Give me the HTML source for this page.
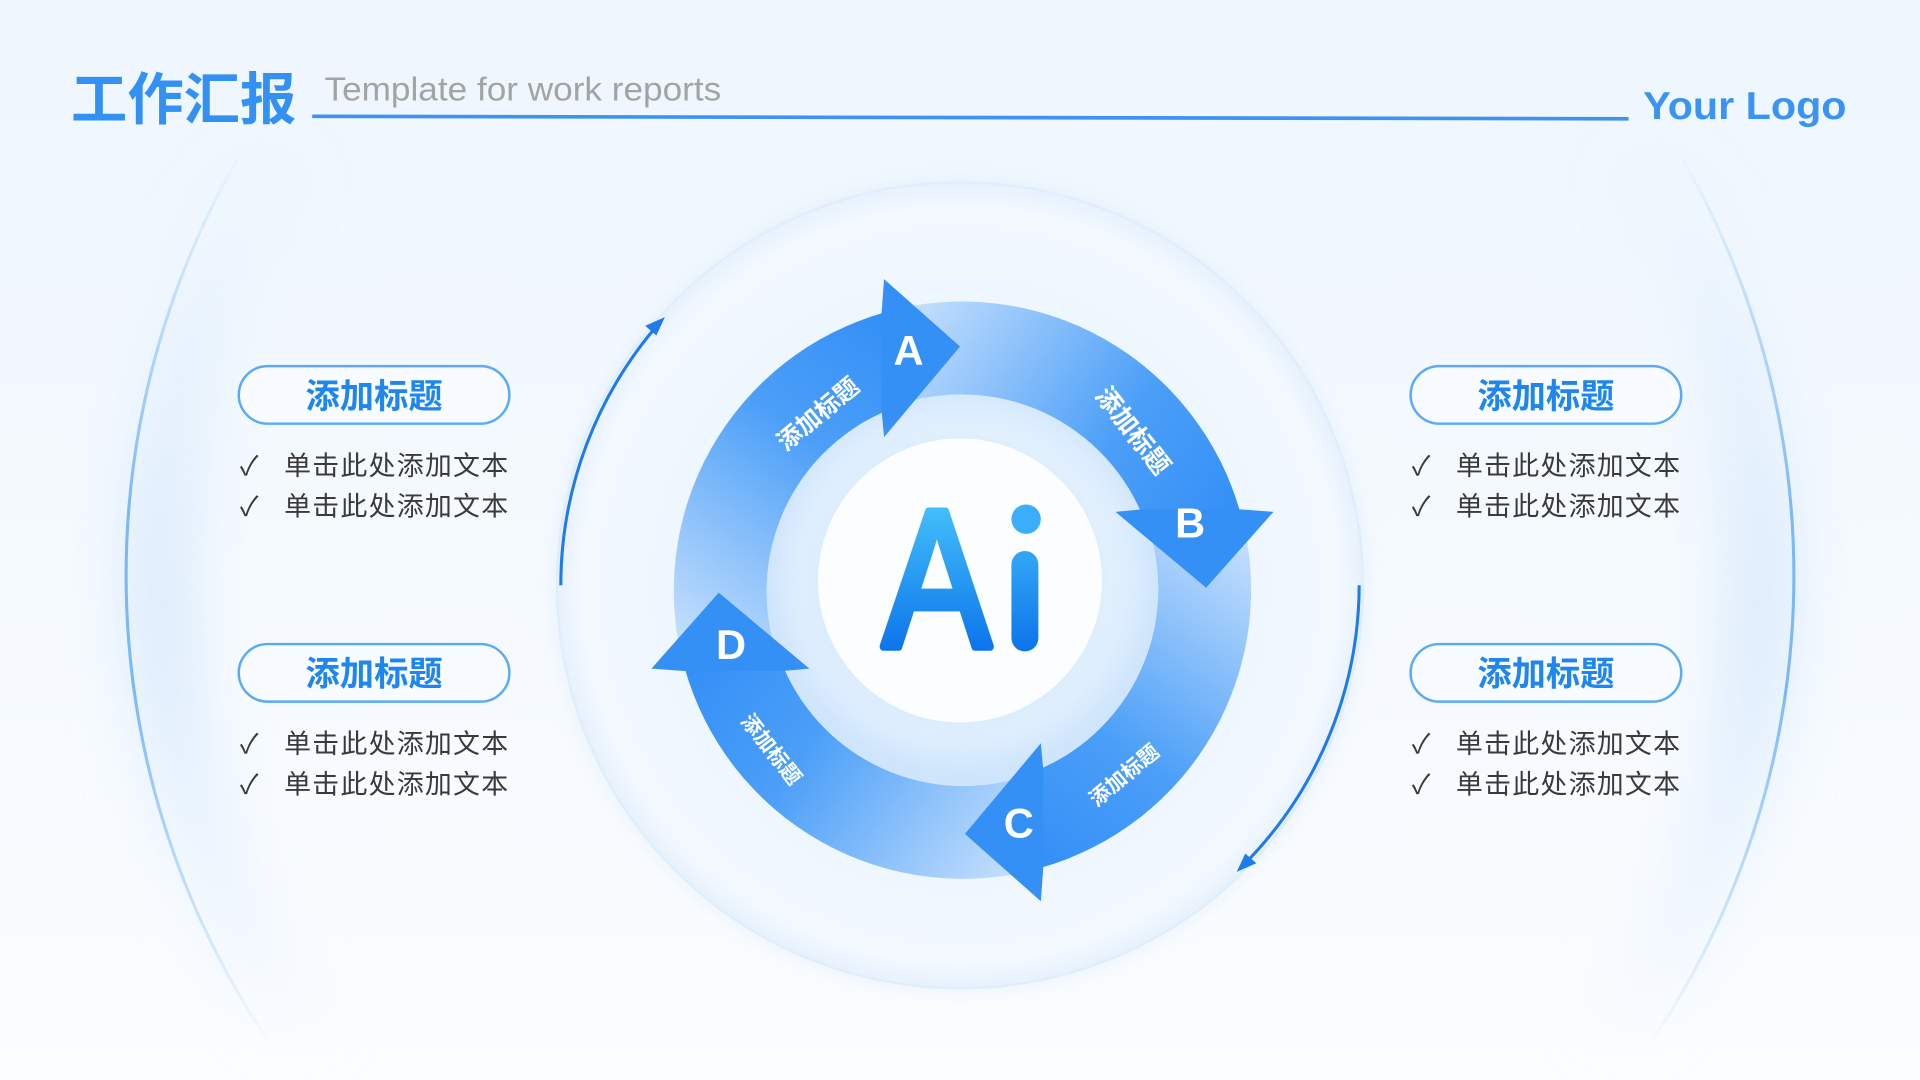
<!DOCTYPE html>
<html><head><meta charset="utf-8"><style>
html,body{margin:0;padding:0;width:1920px;height:1080px;overflow:hidden;background:#f3f8fe}
svg{display:block}
text{font-family:"Liberation Sans","Noto Sans CJK SC",sans-serif}
</style></head><body>
<svg width="1920" height="1080" viewBox="0 0 1568 882" xmlns="http://www.w3.org/2000/svg">
<defs>
<linearGradient id="bg" x1="0" y1="0" x2="0" y2="1"><stop offset="0" stop-color="#eef6fe"/><stop offset="1" stop-color="#fbfdff"/></linearGradient>
<linearGradient id="bigStroke" x1="0" y1="120" x2="0" y2="860" gradientUnits="userSpaceOnUse"><stop offset="0" stop-color="#8cc2f7" stop-opacity="0"/><stop offset="0.4" stop-color="#7ab8f6"/><stop offset="0.6" stop-color="#7ab8f6"/><stop offset="1" stop-color="#8cc2f7" stop-opacity="0"/></linearGradient>
<linearGradient id="bigGlow" x1="0" y1="120" x2="0" y2="860" gradientUnits="userSpaceOnUse"><stop offset="0" stop-color="#d8eafc" stop-opacity="0"/><stop offset="0.45" stop-color="#d8eafc"/><stop offset="0.55" stop-color="#d8eafc"/><stop offset="1" stop-color="#d8eafc" stop-opacity="0"/></linearGradient>
<radialGradient id="midFill" cx="784" cy="478" r="330" gradientUnits="userSpaceOnUse"><stop offset="0.5" stop-color="#e8f3fe"/><stop offset="0.93" stop-color="#f4f9ff"/><stop offset="1" stop-color="#e6f1fd"/></radialGradient>
<radialGradient id="inner" cx="786" cy="472" r="160" gradientUnits="userSpaceOnUse"><stop offset="0.7" stop-color="#ffffff"/><stop offset="0.78" stop-color="#e4f1fe"/><stop offset="1" stop-color="#cfe5fc"/></radialGradient>
<linearGradient id="arr" x1="-30" y1="-230" x2="-235" y2="60" gradientUnits="userSpaceOnUse"><stop offset="0" stop-color="#2f8cf6"/><stop offset="0.4" stop-color="#4c9ff8"/><stop offset="1" stop-color="#cfe5fd"/></linearGradient>
<linearGradient id="ai" x1="0" y1="410" x2="0" y2="535" gradientUnits="userSpaceOnUse"><stop offset="0" stop-color="#45c1fb"/><stop offset="1" stop-color="#0a72ea"/></linearGradient>
<filter id="sh" x="-20%" y="-20%" width="140%" height="140%"><feGaussianBlur stdDeviation="8"/></filter>
<filter id="bl" x="-10%" y="-10%" width="120%" height="120%"><feGaussianBlur stdDeviation="25"/></filter>
</defs>
<rect width="1568" height="882" fill="url(#bg)"/>
<circle cx="784" cy="470" r="655" fill="none" stroke="url(#bigGlow)" stroke-width="50" filter="url(#bl)"/>
<circle cx="784" cy="470" r="681" fill="none" stroke="url(#bigStroke)" stroke-width="2.5"/>
<text x="58" y="97" font-size="46" font-weight="bold" fill="#3391f3">工作汇报</text>
<text x="265" y="82" font-size="27" fill="#a3a3a3" textLength="324" lengthAdjust="spacingAndGlyphs">Template for work reports</text>
<line x1="255" y1="95" x2="1330" y2="97" stroke="#3d92f4" stroke-width="3"/>
<text x="1342" y="97" font-size="32" font-weight="bold" fill="#3b93f3" textLength="166" lengthAdjust="spacingAndGlyphs">Your Logo</text>
<circle cx="784" cy="478" r="330" fill="#dbe9f8" filter="url(#sh)" opacity="0.6"/>
<circle cx="784" cy="478" r="329" fill="url(#midFill)" stroke="#e0edfb" stroke-width="2"/>
<path d="M540 262 A326 326 0 0 0 458 478" fill="none" stroke="#1f7be8" stroke-width="2.5"/>
<path d="M543 259 L527 266 L536 274 Z" fill="#1f7be8"/>
<path d="M1110 478 A326 326 0 0 1 1014 708" fill="none" stroke="#1f7be8" stroke-width="2.5"/>
<path d="M1010 712 L1026 705 L1017 697 Z" fill="#1f7be8"/>
<circle cx="786" cy="478" r="165" fill="url(#inner)"/>
<g transform="translate(786,482)">
<g><path d="M-227 64 A236 236 0 0 1 -63 -227 L-62 -146.6 A160 160 0 0 0 -147 64 Z" fill="url(#arr)"/></g>
<g transform="rotate(90)"><path d="M-227 64 A236 236 0 0 1 -63 -227 L-62 -146.6 A160 160 0 0 0 -147 64 Z" fill="url(#arr)"/></g>
<g transform="rotate(180)"><path d="M-227 64 A236 236 0 0 1 -63 -227 L-62 -146.6 A160 160 0 0 0 -147 64 Z" fill="url(#arr)"/></g>
<g transform="rotate(270)"><path d="M-227 64 A236 236 0 0 1 -63 -227 L-62 -146.6 A160 160 0 0 0 -147 64 Z" fill="url(#arr)"/></g>
<g><path d="M-66 -227 L-64 -254 L-2 -199 L-64 -125 L-66 -146.6 Z" fill="#3590f6"/></g>
<g transform="rotate(90)"><path d="M-66 -227 L-64 -254 L-2 -199 L-64 -125 L-66 -146.6 Z" fill="#3590f6"/></g>
<g transform="rotate(180)"><path d="M-66 -227 L-64 -254 L-2 -199 L-64 -125 L-66 -146.6 Z" fill="#3590f6"/></g>
<g transform="rotate(270)"><path d="M-66 -227 L-64 -254 L-2 -199 L-64 -125 L-66 -146.6 Z" fill="#3590f6"/></g>
</g>
<circle cx="784" cy="474" r="122" fill="#d4e8fc" filter="url(#sh)"/>
<circle cx="784" cy="474" r="116" fill="#fbfdff"/>
<text x="765" y="528" font-size="160" text-anchor="middle" textLength="88" lengthAdjust="spacingAndGlyphs" fill="url(#ai)" stroke="url(#ai)" stroke-width="7" stroke-linejoin="round">A</text>
<rect x="826" y="450" width="22" height="82" rx="11" fill="url(#ai)"/>
<circle cx="838" cy="424" r="12" fill="#3aaefa"/>
<g font-size="34" font-weight="bold" fill="#fff" text-anchor="middle">
<text x="742" y="298">A</text><text x="972" y="439">B</text><text x="832" y="684">C</text><text x="597" y="538">D</text>
</g>
<g font-weight="bold" fill="#fff" text-anchor="middle">
<text x="668" y="345" font-size="20" transform="rotate(-40 668 338)">添加标题</text>
<text x="925" y="359" font-size="21" transform="rotate(52 925 352)">添加标题</text>
<text x="918" y="639" font-size="17" transform="rotate(-40 918 633)">添加标题</text>
<text x="630" y="618" font-size="17" transform="rotate(52 630 612)">添加标题</text>
</g>
<g>
<rect x="195" y="299" width="221" height="47" rx="23.5" fill="#f8fbff" stroke="#5aaaf6" stroke-width="2"/>
<text x="305.5" y="333" font-size="28" font-weight="bold" fill="#1e86ee" text-anchor="middle">添加标题</text>
<rect x="195" y="526" width="221" height="47" rx="23.5" fill="#f8fbff" stroke="#5aaaf6" stroke-width="2"/>
<text x="305.5" y="560" font-size="28" font-weight="bold" fill="#1e86ee" text-anchor="middle">添加标题</text>
<rect x="1152" y="299" width="221" height="47" rx="23.5" fill="#f8fbff" stroke="#5aaaf6" stroke-width="2"/>
<text x="1262.5" y="333" font-size="28" font-weight="bold" fill="#1e86ee" text-anchor="middle">添加标题</text>
<rect x="1152" y="526" width="221" height="47" rx="23.5" fill="#f8fbff" stroke="#5aaaf6" stroke-width="2"/>
<text x="1262.5" y="560" font-size="28" font-weight="bold" fill="#1e86ee" text-anchor="middle">添加标题</text>
</g>
<g font-size="22" fill="#3a3a3a">
<text x="196" y="388">✓</text><text x="232" y="388" textLength="183">单击此处添加文本</text>
<text x="196" y="421">✓</text><text x="232" y="421" textLength="183">单击此处添加文本</text>
<text x="196" y="615">✓</text><text x="232" y="615" textLength="183">单击此处添加文本</text>
<text x="196" y="648">✓</text><text x="232" y="648" textLength="183">单击此处添加文本</text>
<text x="1153" y="388">✓</text><text x="1189" y="388" textLength="183">单击此处添加文本</text>
<text x="1153" y="421">✓</text><text x="1189" y="421" textLength="183">单击此处添加文本</text>
<text x="1153" y="615">✓</text><text x="1189" y="615" textLength="183">单击此处添加文本</text>
<text x="1153" y="648">✓</text><text x="1189" y="648" textLength="183">单击此处添加文本</text>
</g>
</svg>
</body></html>
